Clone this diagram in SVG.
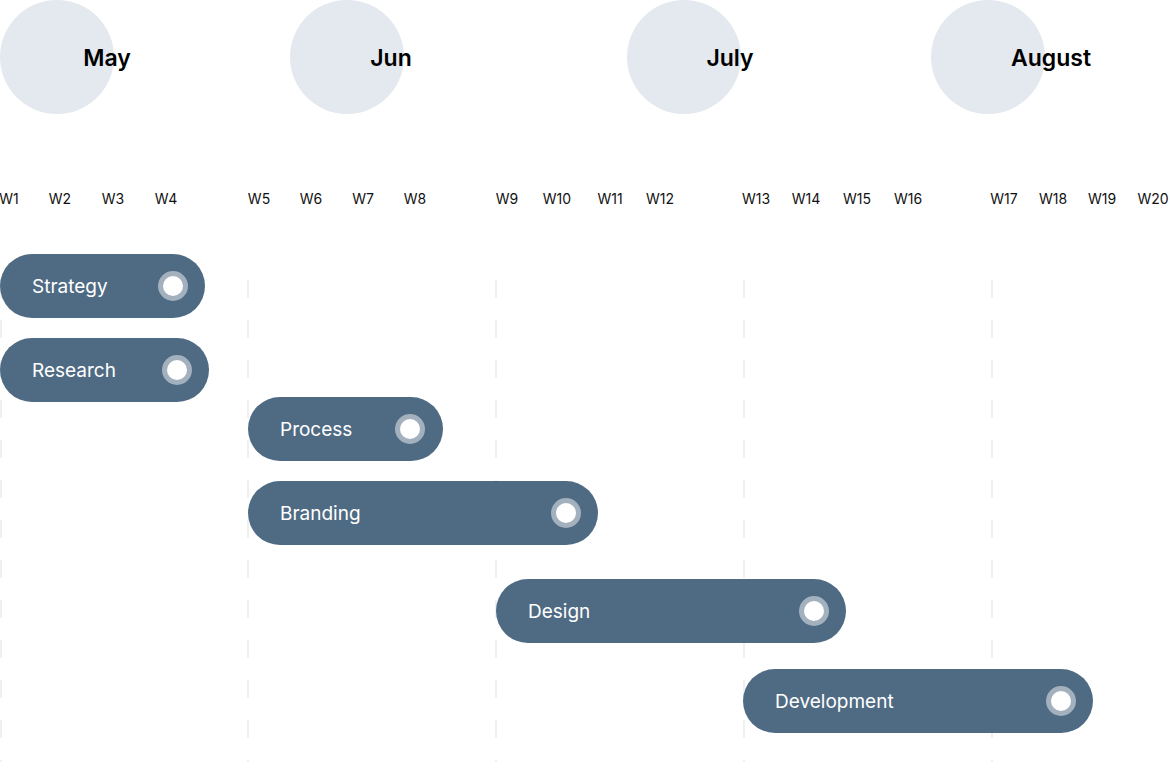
<svg xmlns="http://www.w3.org/2000/svg" width="1170" height="773" viewBox="0 0 1170 773">
<style>
.m{fill:#e3e9ef}
.ml{font:600 23px "Inter","Liberation Sans",sans-serif;fill:#000;text-anchor:middle;dominant-baseline:central}
.w{font:14px "Inter","Liberation Sans",sans-serif;fill:#111;text-anchor:middle;dominant-baseline:central}
.g{stroke:#e6e6e6;stroke-width:1.2;stroke-dasharray:18 22}
.bar{fill:#4f6b84}
.bl{font:19px "Inter","Liberation Sans",sans-serif;fill:#fff;dominant-baseline:central}
.ring{fill:#b8c2cc;opacity:0.8}
.dot{fill:#fff}
</style>
<rect width="1170" height="773" fill="#fff"/>
<g id="months">
<circle class="m" cx="57" cy="57" r="57"/><text class="ml" x="107" y="58">May</text>
<circle class="m" cx="347" cy="57" r="57"/><text class="ml" x="391" y="58">Jun</text>
<circle class="m" cx="684" cy="57" r="57"/><text class="ml" x="730" y="58">July</text>
<circle class="m" cx="988" cy="57" r="57"/><text class="ml" x="1051" y="58">August</text>
</g>
<g id="weeks">
<text class="w" x="9" y="198">W1</text><text class="w" x="60" y="198">W2</text><text class="w" x="113" y="198">W3</text><text class="w" x="166" y="198">W4</text>
<text class="w" x="259" y="198">W5</text><text class="w" x="311" y="198">W6</text><text class="w" x="363" y="198">W7</text><text class="w" x="415" y="198">W8</text>
<text class="w" x="507" y="198">W9</text><text class="w" x="557" y="198">W10</text><text class="w" x="610" y="198">W11</text><text class="w" x="660" y="198">W12</text>
<text class="w" x="756" y="198">W13</text><text class="w" x="806" y="198">W14</text><text class="w" x="857" y="198">W15</text><text class="w" x="908" y="198">W16</text>
<text class="w" x="1004" y="198">W17</text><text class="w" x="1053" y="198">W18</text><text class="w" x="1102" y="198">W19</text><text class="w" x="1153" y="198">W20</text>
</g>
<g id="connectors">
<line class="g" x1="1" y1="280" x2="1" y2="762"/>
<line class="g" x1="248" y1="280" x2="248" y2="762"/>
<line class="g" x1="496" y1="280" x2="496" y2="762"/>
<line class="g" x1="744" y1="280" x2="744" y2="762"/>
<line class="g" x1="992" y1="280" x2="992" y2="762"/>
</g>
<g id="strategy"><rect class="bar" x="0" y="254" width="205" height="64" rx="32"/><text class="bl" x="32" y="286">Strategy</text><circle class="ring" cx="173" cy="286" r="15"/><circle class="dot" cx="173" cy="286" r="10"/></g>
<g id="research"><rect class="bar" x="0" y="338" width="209" height="64" rx="32"/><text class="bl" x="32" y="370">Research</text><circle class="ring" cx="177" cy="370" r="15"/><circle class="dot" cx="177" cy="370" r="10"/></g>
<g id="process"><rect class="bar" x="248" y="397" width="195" height="64" rx="32"/><text class="bl" x="280" y="429">Process</text><circle class="ring" cx="410" cy="429" r="15"/><circle class="dot" cx="410" cy="429" r="10"/></g>
<g id="branding"><rect class="bar" x="248" y="481" width="350" height="64" rx="32"/><text class="bl" x="280" y="513">Branding</text><circle class="ring" cx="566" cy="513" r="15"/><circle class="dot" cx="566" cy="513" r="10"/></g>
<g id="design"><rect class="bar" x="496" y="579" width="350" height="64" rx="32"/><text class="bl" x="528" y="611">Design</text><circle class="ring" cx="814" cy="611" r="15"/><circle class="dot" cx="814" cy="611" r="10"/></g>
<g id="development"><rect class="bar" x="743" y="669" width="350" height="64" rx="32"/><text class="bl" x="775" y="701">Development</text><circle class="ring" cx="1061" cy="701" r="15"/><circle class="dot" cx="1061" cy="701" r="10"/></g>
</svg>
